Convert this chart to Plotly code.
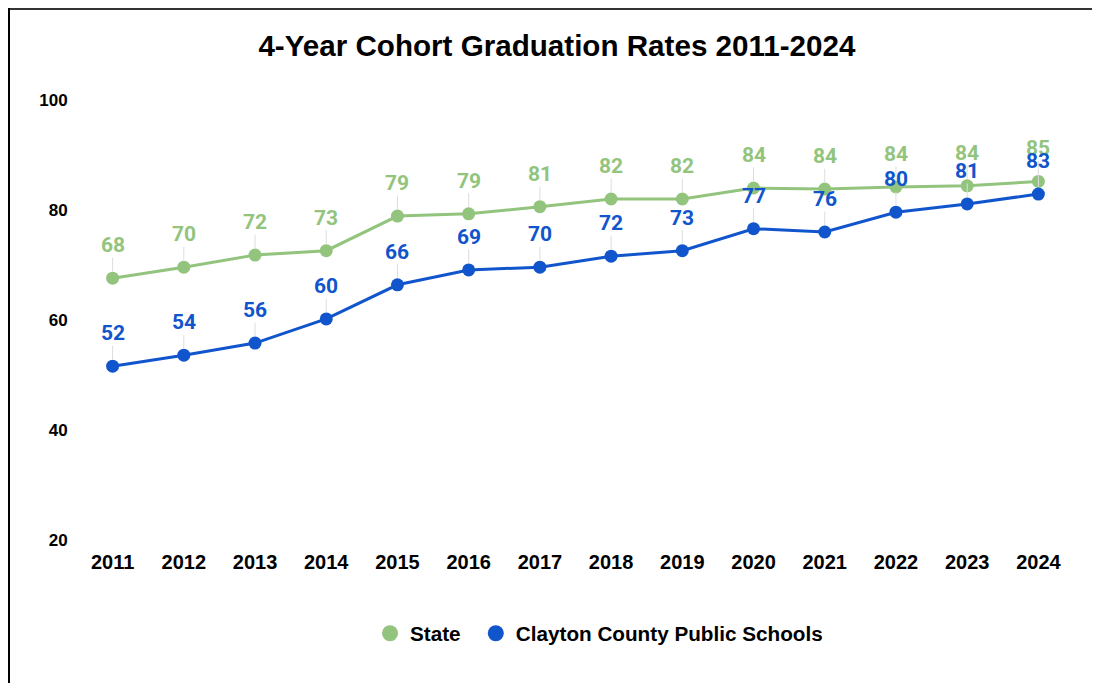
import plotly.graph_objects as go

years = ["2011", "2012", "2013", "2014", "2015", "2016", "2017", "2018", "2019", "2020", "2021", "2022", "2023", "2024"]
state = [67.6, 69.6, 71.8, 72.6, 78.9, 79.3, 80.6, 82.0, 82.0, 84.0, 83.8, 84.2, 84.4, 85.2]
clayton = [51.6, 53.6, 55.8, 60.2, 66.4, 69.1, 69.6, 71.6, 72.6, 76.6, 76.0, 79.6, 81.1, 82.9]
y_ticks = [20, 40, 60, 80, 100]

GREEN = "#93c47d"
BLUE = "#1155cc"

fig = go.Figure()
for name, series, color in (("State", state, GREEN), ("Clayton County Public Schools", clayton, BLUE)):
    fig.add_trace(go.Scatter(x=years, y=series, name=name, mode="lines+markers", showlegend=False,
                             line=dict(color=color, width=3), marker=dict(size=13, color=color)))
for name, color, leg in (("State", GREEN, "legend"), ("Clayton County Public Schools", BLUE, "legend2")):
    fig.add_trace(go.Scatter(x=[None], y=[None], name=name, mode="markers", legend=leg,
                             marker=dict(size=18, color=color)))

annotations = []
for series, color in ((state, GREEN), (clayton, BLUE)):
    for i, v in enumerate(series):
        annotations.append(dict(
            x=i, y=v, xref="x", yref="y", text=f"{round(v)}",
            showarrow=True, arrowhead=0, arrowwidth=1, arrowcolor="#dddddd",
            ax=0, ay=-33, standoff=7, borderpad=0,
            font=dict(family="Roboto", size=21, color=color, weight="bold"),
        ))

legend_font = dict(family="Liberation Sans", size=20.7, color="#000000", weight="bold")

fig.update_layout(
    width=1092, height=675,
    margin=dict(l=69, r=26, t=92, b=143, autoexpand=False),
    paper_bgcolor="white", plot_bgcolor="white",
    title=dict(text="<b>4-Year Cohort Graduation Rates 2011-2024</b>", x=0.5027, xanchor="center",
               y=0.944, yanchor="middle",
               font=dict(family="Liberation Sans", size=29.6, color="#000000")),
    xaxis=dict(type="category", range=[-0.5, 13.5], showgrid=False, zeroline=False, showline=False,
               tickfont=dict(family="Liberation Sans", size=20, color="#000000", weight="bold"),
               ticks="outside", ticklen=4, tickcolor="white"),
    yaxis=dict(range=[20, 100], tickvals=y_ticks, showgrid=False, zeroline=False, showline=False,
               tickfont=dict(family="Liberation Sans", size=17, color="#000000", weight="bold"),
               ticks="outside", ticklen=5, tickcolor="white"),
    showlegend=True,
    legend=dict(orientation="h", x=0.2939, xanchor="left", y=-0.212, yanchor="middle",
                font=legend_font, itemsizing="trace"),
    legend2=dict(orientation="h", x=0.400, xanchor="left", y=-0.212, yanchor="middle",
                 font=legend_font, itemsizing="trace"),
    annotations=annotations,
    shapes=[
        dict(type="line", xref="paper", yref="paper", x0=-0.1, x1=1.1, y0=1.207, y1=1.207,
             line=dict(color="#333333", width=2)),
        dict(type="line", xref="paper", yref="paper", x0=-0.0682, x1=-0.0682, y0=1.22, y1=-0.4,
             line=dict(color="#000000", width=2)),
    ],
)

fig.write_html("out.html")
